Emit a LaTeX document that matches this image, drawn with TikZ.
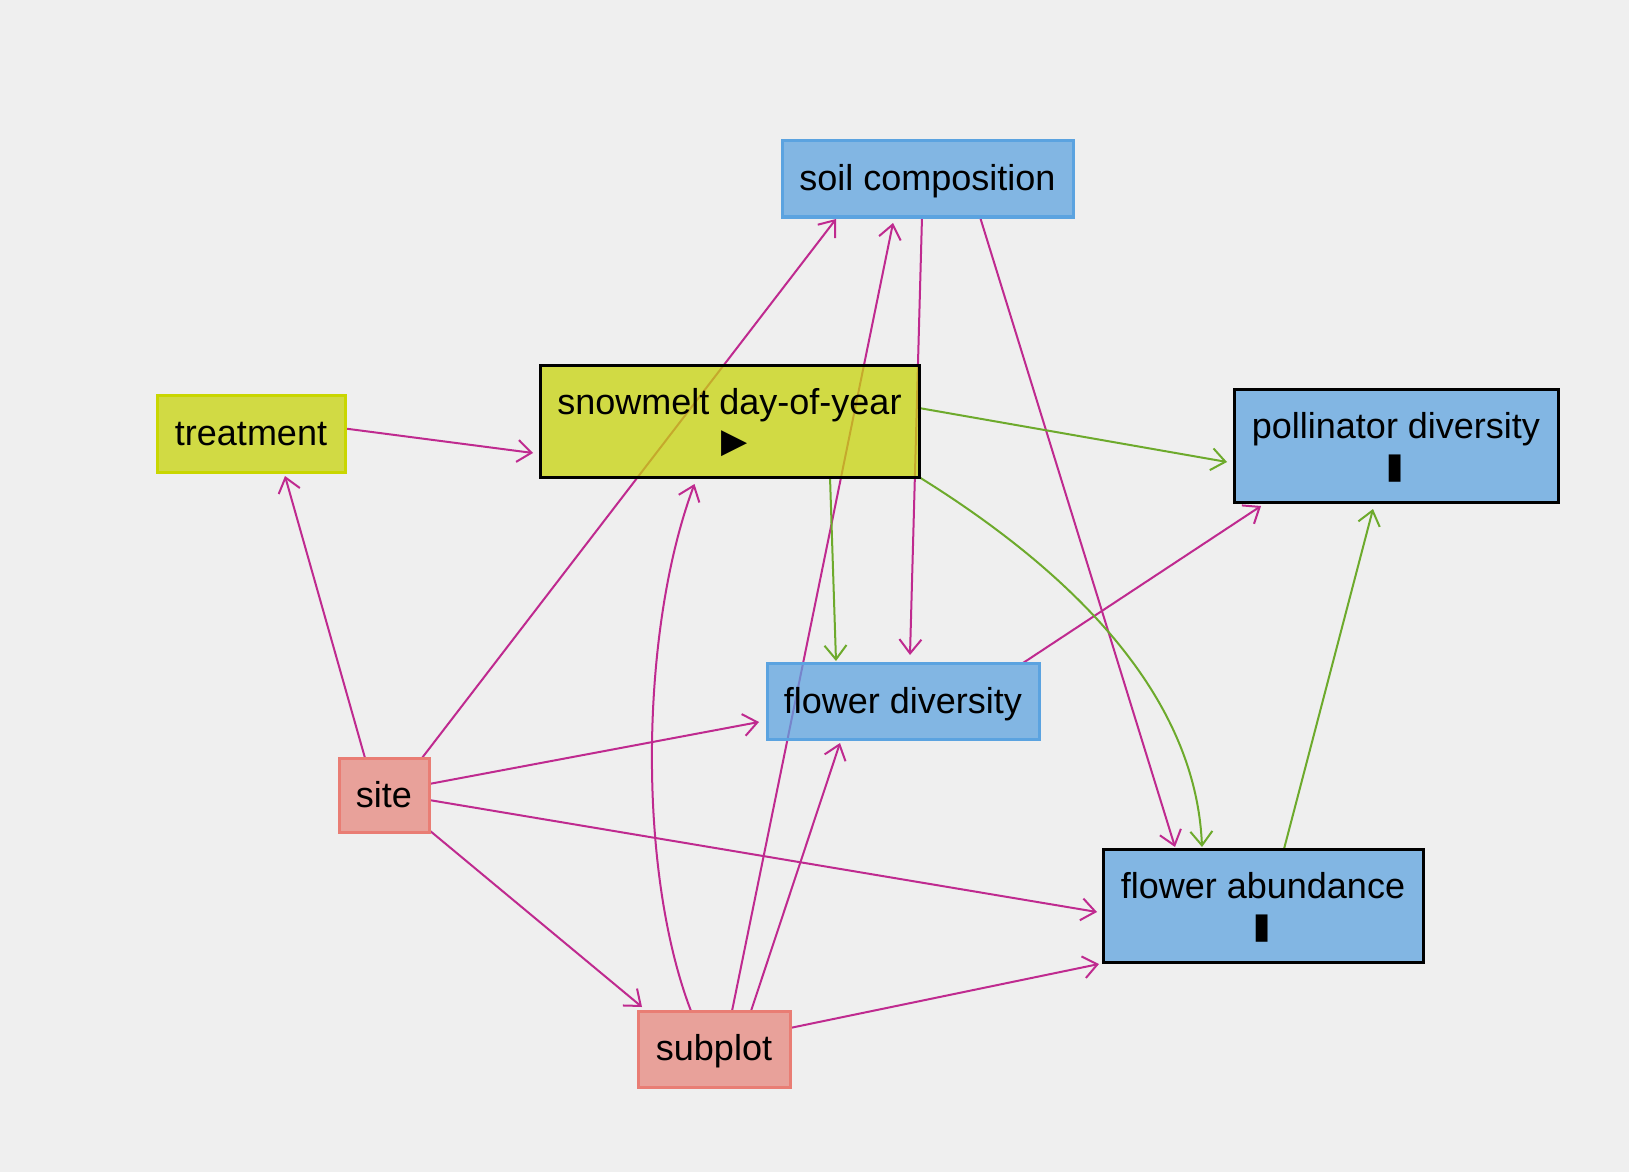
\documentclass[tikz,border=0pt]{standalone}
\usepackage{fontspec}
\setmainfont{Liberation Sans}
\newfontfamily\symfont{DejaVu Sans}
\usetikzlibrary{arrows.meta,calc}
\definecolor{bgc}{HTML}{EFEFEF}
\definecolor{bluefill}{RGB}{94,163,224}
\definecolor{blueline}{HTML}{5BA3E0}
\definecolor{yelfill}{RGB}{200,212,12}
\definecolor{yelline}{HTML}{C9D600}
\definecolor{pinkfill}{RGB}{230,135,126}
\definecolor{pinkline}{HTML}{E97D74}
\definecolor{magedge}{HTML}{BF2A8F}
\definecolor{grnedge}{HTML}{6DAA2C}
\pgfdeclarelayer{bglayer}
\pgfdeclarelayer{edgelayer}
\pgfsetlayers{bglayer,edgelayer,main}
\tikzset{
  box/.style={rectangle, inner sep=0pt, outer sep=0pt, line width=1.5pt,
    fill opacity=0.75, text opacity=1, align=center,
    font=\fontsize{18}{21}\selectfont},
  bluebox/.style={box, fill=bluefill, draw=blueline},
  blkbluebox/.style={box, fill=bluefill, draw=black},
  yelbox/.style={box, fill=yelfill, draw=yelline},
  blkyelbox/.style={box, fill=yelfill, draw=black},
  pinkbox/.style={box, fill=pinkfill, draw=pinkline},
  medge/.style={draw=magedge, line width=1pt, -{Straight Barb[length=7pt,width=11pt]}},
  gedge/.style={draw=grnedge, line width=1pt, -{Straight Barb[length=7pt,width=11pt]}},
}
\newcommand{\dn}[2]{\raisebox{-#1}[\height][\depth]{#2}}
\newcommand{\tri}{{\kern5pt\symfont\fontsize{17}{21}\selectfont ▶}}
\newcommand{\halfblk}{{\kern4.5pt\symfont\fontsize{11.5}{21}\selectfont\scalebox{1.3}[1]{▌}}}
\begin{document}
\begin{tikzpicture}[x=0.5pt,y=-0.5pt]
\begin{pgfonlayer}{bglayer}
\fill[bgc] (0,0) rectangle (1629,1172);
\end{pgfonlayer}
\useasboundingbox (0,0) rectangle (1629,1172);

\node[bluebox, minimum width=145.5pt, minimum height=38pt] (soil) at (927.5,179) {\dn{1pt}{soil composition}};
\node[blkyelbox, minimum width=189.5pt, minimum height=56pt] (snow) at (729.5,421) {\dn{1.8pt}{snowmelt day-of-year}\\\tri};
\node[yelbox, minimum width=94pt, minimum height=38.5pt] (treat) at (251,433.5) {\dn{0.5pt}{treatment}};
\node[blkbluebox, minimum width=162pt, minimum height=56.5pt] (poll) at (1396,445.5) {\dn{2pt}{pollinator diversity}\\\halfblk};
\node[bluebox, minimum width=136pt, minimum height=38pt] (fdiv) at (903,701) {\dn{1.5pt}{flower diversity}};
\node[pinkbox, minimum width=45pt, minimum height=37pt] (site) at (384,795) {site};
\node[blkbluebox, minimum width=160pt, minimum height=56.5pt] (fab) at (1263,905.5) {\dn{2pt}{flower abundance}\\\halfblk};
\node[pinkbox, minimum width=76pt, minimum height=38pt] (sub) at (714,1049) {\dn{1pt}{subplot}};

\begin{pgfonlayer}{edgelayer}
\draw[medge] ($(treat.east)+(0,-5)$) -- ($(snow.west)+(-7,32)$);
\draw[medge] ($(site.north)+(-19,0)$) -- ($(treat.south)+(34,4)$);
\draw[medge] ($(site.north)+(38,0)$) -- ($(soil.south)+(-91.5,2)$);
\draw[medge] ($(site.east)+(0,-11)$) -- ($(fdiv.west)+(-8,21)$);
\draw[medge] ($(site.east)+(0,5)$) -- ($(fab.west)+(-6,6.5)$);
\draw[medge] ($(site.south east)+(0,-2)$) -- ($(sub.north west)+(4,-4)$);
\draw[medge] ($(sub.north)+(-23,0)$) .. controls (637,870) and (640,630) .. ($(snow.south)+(-35,7)$);
\draw[medge] ($(sub.north)+(18,0)$) -- ($(soil.south)+(-34.5,6)$);
\draw[medge] ($(sub.north)+(37,0)$) -- ($(fdiv.south)+(-63,4)$);
\draw[medge] ($(sub.east)+(0,-21)$) -- ($(fab.south west)+(-4,2)$);
\draw[medge] ($(soil.south)+(-5.5,0)$) -- ($(fdiv.north)+(7,-8)$);
\draw[medge] ($(soil.south)+(52.5,0)$) -- ($(fab.north)+(-88,-2)$);
\draw[medge] ($(fdiv.north)+(120,0)$) -- ($(poll.south west)+(27,4)$);
\draw[gedge] ($(snow.east)+(0,-13)$) -- ($(poll.west)+(-7,16.5)$);
\draw[gedge] ($(snow.south)+(100.5,0)$) -- ($(fdiv.north)+(-67,-2)$);
\draw[gedge] (snow.south east) .. controls (1080,577) and (1196,700) .. ($(fab.north)+(-61,-2)$);
\draw[gedge] ($(fab.north)+(21,0)$) -- ($(poll.south)+(-23,7)$);
\end{pgfonlayer}
\end{tikzpicture}
\end{document}
